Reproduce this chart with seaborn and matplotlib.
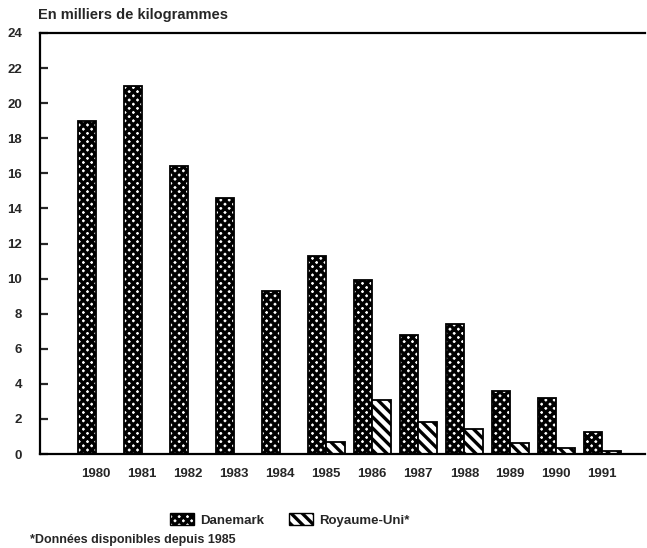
import matplotlib
matplotlib.use('Agg')
import matplotlib.pyplot as plt
import matplotlib.patches as mpatches
import pandas as pd
import seaborn as sns

years = ['1980', '1981', '1982', '1983', '1984', '1985',
         '1986', '1987', '1988', '1989', '1990', '1991']
danemark = [19.0, 21.0, 16.4, 14.6, 9.3, 11.3, 9.9, 6.8, 7.4, 3.6, 3.2, 1.25]
royaume_uni = [0, 0, 0, 0, 0, 0.7, 3.1, 1.8, 1.45, 0.65, 0.35, 0.15]
series = ['Danemark', 'Royaume-Uni*']
hatches = ['xxxx', '\\\\\\']

data = pd.DataFrame({
    'annee': years * 2,
    'valeur': danemark + royaume_uni,
    'pays': [series[0]] * len(years) + [series[1]] * len(years),
})

sns.set_style('white')
plt.rcParams['font.family'] = ['Liberation Sans', 'DejaVu Sans']
plt.rcParams['font.weight'] = 'bold'
plt.rcParams['hatch.linewidth'] = 2.4
plt.rcParams['hatch.color'] = 'black'

fig = plt.figure(figsize=(6.47, 5.48), dpi=100)
ax = fig.add_axes([0.062, 0.1715, 0.935, 0.7683])

sns.barplot(data=data, x='annee', y='valeur', hue='pays', ax=ax,
            palette=['white', 'white'], edgecolor='black', linewidth=1.3,
            legend=False)

for cont, h in zip(ax.containers, hatches):
    for bar in cont:
        bar.set_hatch(h)
        bar.set_edgecolor('black')

ax.set_xlim(-1.22, 11.93)
ax.set_ylim(0, 24)
ax.set_yticks(range(0, 25, 2))
ax.set_xlabel('')
ax.set_ylabel('')

for side in ['left', 'bottom', 'top']:
    ax.spines[side].set_visible(True)
    ax.spines[side].set_color('black')
    ax.spines[side].set_linewidth(1.6)
ax.spines['right'].set_visible(False)

ax.tick_params(axis='y', direction='in', length=6, width=1.6, pad=13,
               labelsize=9.5, left=True)
ax.tick_params(axis='x', length=0, pad=10, labelsize=9.5)
for lab in ax.get_xticklabels() + ax.get_yticklabels():
    lab.set_fontweight('bold')

fig.text(0.059, 0.972, 'En milliers de kilogrammes', fontsize=10.5,
         fontweight='bold', ha='left', va='center')

handles = [mpatches.Patch(facecolor='white', edgecolor='black', hatch=h, label=s)
           for s, h in zip(series, hatches)]
fig.legend(handles=handles, loc='center', bbox_to_anchor=(0.448, 0.051),
           ncol=2, frameon=False, handlelength=1.8, handleheight=0.95,
           handletextpad=0.5, columnspacing=1.9,
           prop={'weight': 'bold', 'size': 9.5})

fig.text(0.046, 0.014, '*Données disponibles depuis 1985', fontsize=9,
         fontweight='bold', ha='left', va='center')

fig.savefig('out.png', dpi=100)
